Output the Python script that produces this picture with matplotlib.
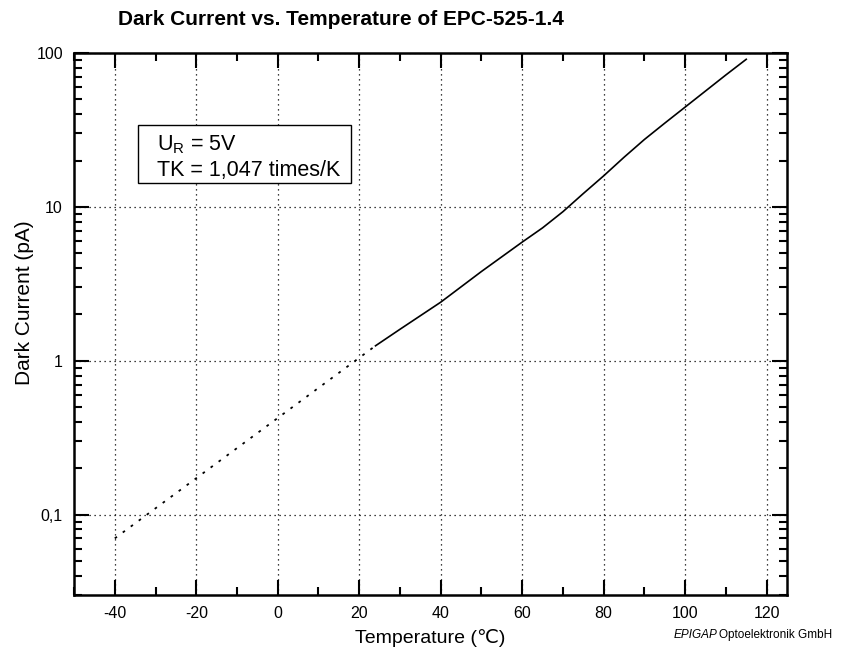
import numpy as np
import matplotlib
matplotlib.use("Agg")
import matplotlib.pyplot as plt
from matplotlib.patches import Rectangle
from matplotlib.ticker import FixedLocator, FixedFormatter, LogLocator, NullFormatter

plt.rcParams['font.family'] = ['Liberation Sans', 'DejaVu Sans']
plt.rcParams['axes.unicode_minus'] = False

# measured part of the curve (solid)
temp_meas = [24, 30, 40, 50, 60, 65, 70, 75, 80, 85, 90, 95, 100, 110, 115]
curr_meas = [1.25, 1.6, 2.4, 3.8, 5.9, 7.3, 9.3, 12.2, 15.9, 21, 27.4, 35, 44.5, 72, 91]

# extrapolated part (dotted)
temp_extra = [-40, 24]
curr_extra = [0.07, 1.25]

x_major = [-40, -20, 0, 20, 40, 60, 80, 100, 120]
x_minor = [-50, -30, -10, 10, 30, 50, 70, 90, 110]
y_major = [0.1, 1, 10, 100]
y_labels = ["0,1", "1", "10", "100"]

fig = plt.figure(figsize=(8.53, 6.6), dpi=100)
ax = fig.add_axes([0.0868, 0.0985, 0.8358, 0.8212])

ax.plot(temp_meas, curr_meas, color="black", lw=1.2)
ax.plot(temp_extra, curr_extra, color="black", lw=1.3, ls=(0, (1.5, 4)))

ax.set_yscale("log")
ax.set_xlim(-50, 125)
ax.set_ylim(0.03, 100)

ax.xaxis.set_major_locator(FixedLocator(x_major))
ax.xaxis.set_minor_locator(FixedLocator(x_minor))
ax.yaxis.set_major_locator(FixedLocator(y_major))
ax.yaxis.set_major_formatter(FixedFormatter(y_labels))
ax.yaxis.set_minor_locator(LogLocator(base=10, subs=np.arange(2, 10)))
ax.yaxis.set_minor_formatter(NullFormatter())

ax.tick_params(which="both", direction="in", top=True, right=True, width=1.5, labelsize=11.5)
ax.tick_params(which="major", length=11, pad=8)
ax.tick_params(which="minor", length=6)
for s in ax.spines.values():
    s.set_linewidth(1.8)

ax.grid(True, which="major", color="black", ls=(0, (1, 3)), lw=0.9)

ax.set_xlabel("Temperature (\u2103)", fontsize=14, labelpad=6)
ax.set_ylabel("Dark Current (pA)", fontsize=15, labelpad=10)
ax.yaxis.set_label_coords(-0.056, 0.54)

fig.text(0.138, 0.97, "Dark Current vs. Temperature of EPC-525-1.4", fontsize=15,
         fontweight="bold", family=["Liberation Sans Narrow", "Liberation Sans"], va="center")

# info box
ax.add_patch(Rectangle((0.0898, 0.760), 0.2987, 0.107, transform=ax.transAxes,
                       fc="white", ec="black", lw=1, zorder=5))
ax.text(0.1164, 0.830, "U$_\\mathregular{R}$ = 5V", transform=ax.transAxes,
        fontsize=15.5, va="center", ha="left", zorder=6)
ax.text(0.1164, 0.784, "TK = 1,047 times/K", transform=ax.transAxes,
        fontsize=15.5, va="center", ha="left", zorder=6)

fig.text(0.790, 0.038, "EPIGAP", fontsize=8.5, style="italic", va="center")
fig.text(0.843, 0.038, "Optoelektronik GmbH", fontsize=8.5, va="center")

fig.savefig("out.png", dpi=100)
